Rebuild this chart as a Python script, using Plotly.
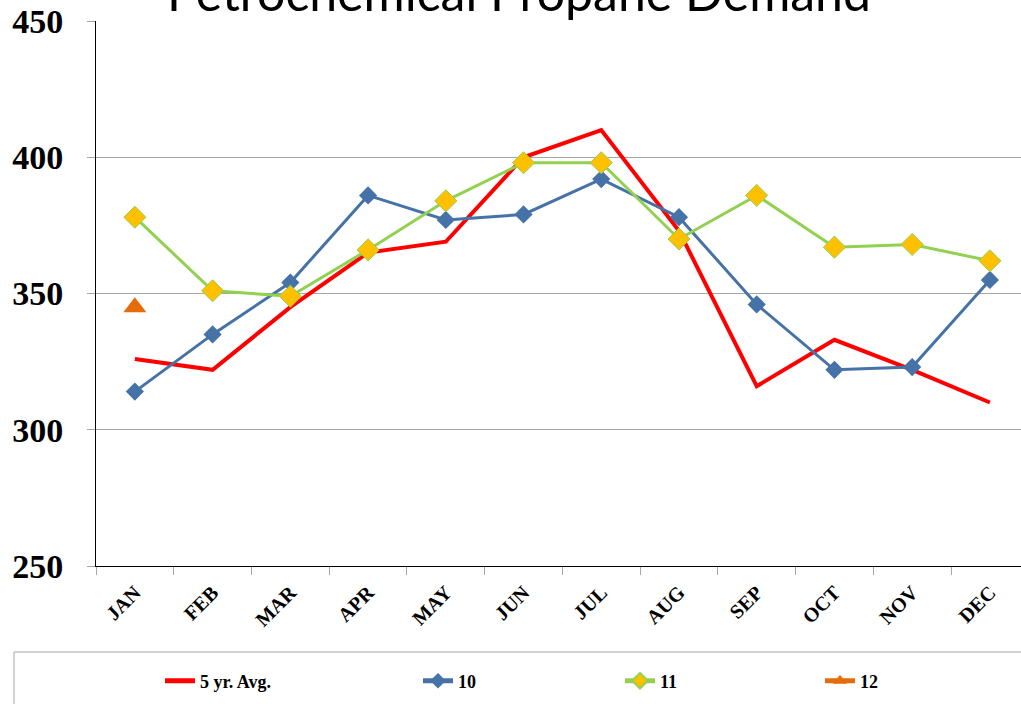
import plotly.graph_objects as go

months = ["JAN", "FEB", "MAR", "APR", "MAY", "JUN", "JUL", "AUG", "SEP", "OCT", "NOV", "DEC"]
avg5 = [326, 322, 345, 365, 369, 400, 410, 373, 316, 333, 322, 310]
y10 = [314, 335, 354, 386, 377, 379, 392, 378, 346, 322, 323, 355]
y11 = [378, 351, 349, 366, 384, 398, 398, 370, 386, 367, 368, 362]
y12 = [345, None, None, None, None, None, None, None, None, None, None, None]

title_text = "Petrochemical Propane Demand"
y_ticks = [250, 300, 350, 400, 450]

W, H = 1021, 704
serif = "Liberation Serif"
legend_font = dict(family=serif, size=18, color="black", weight="bold")

fig = go.Figure()
fig.add_trace(go.Scatter(
    x=months, y=avg5, name="5 yr. Avg.", mode="lines",
    line=dict(color="#FF0000", width=4), legend="legend"))
fig.add_trace(go.Scatter(
    x=months, y=y10, name="10", mode="lines+markers",
    line=dict(color="#4572A7", width=3),
    marker=dict(symbol="diamond", size=14, color="#4572A7"), legend="legend2"))
fig.add_trace(go.Scatter(
    x=months, y=y11, name="11", mode="lines+markers",
    line=dict(color="#92D050", width=3),
    marker=dict(symbol="diamond", size=17, color="#FFC000",
                line=dict(color="#92D050", width=1)), legend="legend3"))
fig.add_trace(go.Scatter(
    x=months, y=y12, name="12", mode="lines+markers",
    line=dict(color="#E46C0A", width=3),
    marker=dict(symbol="triangle-up", size=20, color="#E46C0A"), legend="legend4"))


def leg(px):
    return dict(orientation="h", xref="container", yref="container",
                x=px / W, y=1 - 681 / H, xanchor="left", yanchor="middle",
                bgcolor="rgba(0,0,0,0)", borderwidth=0, font=legend_font,
                itemsizing="constant")


fig.update_layout(
    width=W, height=H,
    margin=dict(l=96, r=0, t=21, b=138, autoexpand=False),
    paper_bgcolor="white", plot_bgcolor="white",
    showlegend=True,
    legend=leg(160), legend2=leg(418), legend3=leg(620), legend4=leg(820),
    xaxis=dict(
        type="category", categoryorder="array", categoryarray=months,
        range=[-0.5, 11.4], tickson="boundaries", ticks="outside", ticklen=8,
        tickcolor="#A6A6A6", showgrid=False, showline=True, linecolor="black",
        linewidth=1, tickangle=-45, zeroline=False, automargin=False,
        ticklabelstandoff=6,
        tickfont=dict(family=serif, size=20, color="black", weight="bold")),
    yaxis=dict(
        range=[250, 450], tickmode="array", tickvals=y_ticks,
        showgrid=True, gridcolor="#A6A6A6", gridwidth=1, automargin=False,
        showline=True, linecolor="black", linewidth=1, zeroline=False,
        ticks="outside", ticklen=8, tickcolor="#A6A6A6", ticklabelstandoff=17,
        tickfont=dict(family=serif, size=34, color="black", weight="bold")),
    shapes=[dict(type="rect", xref="paper", yref="paper",
                 x0=(14 - 96) / 925, x1=1.05, y0=(566 - 652) / 545, y1=-0.4,
                 line=dict(color="#A6A6A6", width=1), fillcolor="rgba(0,0,0,0)",
                 layer="below")],
    annotations=[dict(text=title_text, xref="paper", yref="paper",
                      x=(519 - 96) / 925, y=1 - 3 / 545, xanchor="center",
                      yanchor="bottom", showarrow=False,
                      font=dict(family="Lato", size=50, color="black"))],
)

fig.write_html("out.html", config={"displayModeBar": False},
               post_script="document.body.style.margin='0';document.body.style.overflow='hidden';")
